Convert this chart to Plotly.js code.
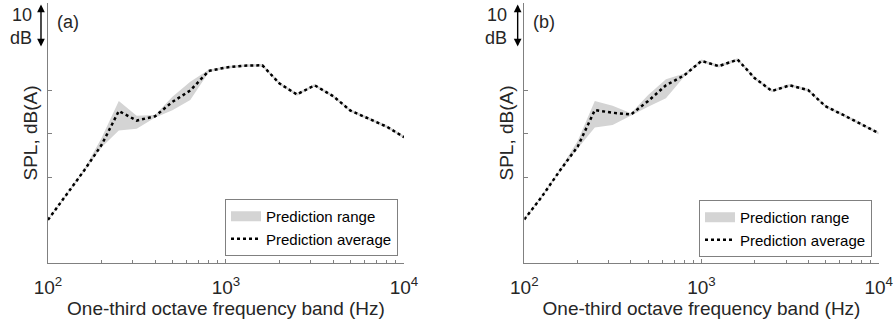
<!DOCTYPE html>
<html>
<head>
<meta charset="utf-8">
<script src="https://cdn.plot.ly/plotly-3.0.1.min.js"></script>
<style>html,body{margin:0;padding:0;background:#fff;}#chart{width:895px;height:326px;}</style>
</head>
<body>
<div id="chart"></div>
<script>
// One-third octave band centre frequencies (Hz)
var freqs = [100,125,160,200,250,315,400,500,630,800,1000,1250,1600,2000,2500,3150,4000,5000,6300,8000,10000];

// Panel (a) – SPL, dB(A)
var avgA  = [20.2,25.7,31.6,37.4,45.2,43.0,44.0,47.3,49.9,54.4,55.2,55.6,55.7,51.5,49.0,51.1,48.6,45.3,43.5,41.6,39.2];
var lowA  = [20.0,25.5,31.3,36.9,40.7,41.1,43.7,45.4,47.7,54.1,54.9,55.3,55.4,51.2,48.7,50.8,48.3,45.0,43.2,41.3,38.9];
var highA = [20.4,25.9,31.9,39.0,47.5,44.1,44.3,48.5,51.9,54.7,55.5,55.9,56.0,51.8,49.3,51.4,48.9,45.6,43.8,41.9,39.5];

// Panel (b) – SPL, dB(A)
var avgB  = [20.3,25.4,31.7,37.0,45.4,44.8,44.4,47.5,51.1,53.4,56.7,55.5,57.0,52.7,49.8,51.1,50.0,46.3,44.3,42.2,40.1];
var lowB  = [20.1,25.2,31.4,36.6,41.4,42.0,44.1,46.2,48.1,53.1,56.4,55.2,56.7,52.4,49.5,50.8,49.7,46.0,44.0,41.9,39.8];
var highB = [20.5,25.7,32.0,38.3,47.5,46.4,44.7,48.9,52.5,53.8,57.0,55.8,57.3,53.0,50.1,51.4,50.3,46.6,44.6,42.5,40.4];

// Tick labels
var majorTicks = [100,1000,10000];
var majorTickText = ['10<sup>2</sup>','10<sup>3</sup>','10<sup>4</sup>'];
var minorTicks = [200,300,400,500,600,700,800,900,2000,3000,4000,5000,6000,7000,8000,9000];
var yTicks = [30,40,50];
var panelLabels = ['(a)','(b)'];
var seriesNames = ['Prediction range','Prediction average'];
var xTitle = 'One-third octave frequency band (Hz)';
var yTitle = 'SPL, dB(A)';
var scaleBar = [60,70];   // 10 dB scale arrow
var scaleText = ['10','dB'];

var FONT = 'Liberation Sans, Arial, Helvetica, sans-serif';
var TXT = '#262626';
var AX = '#808080';
var BAND = '#d4d4d4';

function band(x, lo, hi, xa, ya) {
  return {
    x: x.concat(x.slice().reverse()),
    y: hi.concat(lo.slice().reverse()),
    xaxis: xa, yaxis: ya, showlegend: false,
    type: 'scatter', mode: 'lines', fill: 'toself',
    fillcolor: BAND, line: {width: 0, color: BAND},
    name: seriesNames[0], hoverinfo: 'skip'
  };
}
// legend entry for the range band (patch-like swatch)
function bandKey(xa, ya, lg) {
  return {
    x: [null], y: [null], xaxis: xa, yaxis: ya, legend: lg,
    type: 'scatter', mode: 'lines',
    line: {color: BAND, width: 14},
    name: seriesNames[0], hoverinfo: 'skip'
  };
}
function avg(x, y, xa, ya, lg) {
  return {
    x: x, y: y, xaxis: xa, yaxis: ya, legend: lg,
    type: 'scatter', mode: 'lines',
    line: {color: '#000', width: 2.5, dash: 'dot'},
    name: seriesNames[1]
  };
}

var data = [
  band(freqs, lowA, highA, 'x', 'y'),
  bandKey('x', 'y', 'legend'),
  avg(freqs, avgA, 'x', 'y', 'legend'),
  band(freqs, lowB, highB, 'x2', 'y2'),
  bandKey('x2', 'y2', 'legend2'),
  avg(freqs, avgB, 'x2', 'y2', 'legend2')
];

function xax(dom, anchor) {
  return {
    type: 'log', range: [2, 4], domain: dom, anchor: anchor,
    showline: true, linecolor: AX, linewidth: 1, mirror: false,
    showgrid: false, zeroline: false,
    tickmode: 'array', tickvals: majorTicks, ticktext: majorTickText,
    ticks: 'inside', ticklen: 4, tickcolor: AX, tickwidth: 1,
    ticklabelstandoff: 7,
    tickfont: {family: FONT, size: 19, color: TXT},
    minor: {tickmode: 'array', tickvals: minorTicks, ticks: 'inside', ticklen: 3, tickcolor: AX, tickwidth: 1, showgrid: false},
    title: {text: xTitle, font: {family: FONT, size: 19, color: TXT}, standoff: 3},
    fixedrange: true
  };
}
function yax(anchor) {
  return {
    range: [10.3, 70], domain: [0.1933, 0.9908], anchor: anchor,
    showline: true, linecolor: AX, linewidth: 1, mirror: false,
    showgrid: false, zeroline: false,
    tickmode: 'array', tickvals: yTicks, showticklabels: false,
    ticks: 'inside', ticklen: 4, tickcolor: AX, tickwidth: 1,
    title: {text: yTitle, font: {family: FONT, size: 19, color: TXT}, standoff: 4},
    fixedrange: true
  };
}
function leg(xr, yb) {
  return {
    x: xr, y: yb, xanchor: 'right', yanchor: 'bottom',
    xref: 'paper', yref: 'paper',
    bgcolor: '#fff', bordercolor: AX, borderwidth: 1,
    font: {family: FONT, size: 15, color: '#000'},
    tracegroupgap: 0, itemwidth: 30
  };
}

var annotations = [];
[['x','y',0.0618,0.0458,0.0380],['x2','y2',0.5935,0.5784,0.5687]].forEach(function(p, i) {
  annotations.push({
    xref: 'paper', yref: 'paper', x: p[2], y: 1 - 22/326,
    xanchor: 'left', yanchor: 'middle', showarrow: false,
    text: panelLabels[i], font: {family: FONT, size: 18, color: TXT}
  });
  annotations.push({
    xref: 'paper', yref: p[1], x: p[4], y: 67.3,
    xanchor: 'right', yanchor: 'middle', showarrow: false,
    text: scaleText[0], font: {family: FONT, size: 18, color: TXT}
  });
  annotations.push({
    xref: 'paper', yref: p[1], x: p[4], y: 61.9,
    xanchor: 'right', yanchor: 'middle', showarrow: false,
    text: scaleText[1], font: {family: FONT, size: 18, color: TXT}
  });
  annotations.push({
    xref: 'paper', yref: p[1], x: p[3], y: scaleBar[0],
    axref: 'pixel', ayref: p[1], ax: 0, ay: scaleBar[1],
    showarrow: true, arrowhead: 2, arrowside: 'end+start', arrowsize: 1.1,
    arrowwidth: 1.4, arrowcolor: '#000', text: '', standoff: 0, startstandoff: 0
  });
});

var layout = {
  width: 895, height: 326,
  margin: {l: 0, r: 0, t: 0, b: 0},
  paper_bgcolor: '#fff', plot_bgcolor: 'rgba(0,0,0,0)',
  font: {family: FONT, color: TXT},
  showlegend: true,
  xaxis: xax([0.0536, 0.4514], 'y'),
  yaxis: yax('x'),
  xaxis2: xax([0.5858, 0.9818], 'y2'),
  yaxis2: yax('x2'),
  legend: leg(0.4447, 0.2147),
  legend2: leg(0.9743, 0.2117),
  annotations: annotations
};

Plotly.newPlot('chart', data, layout, {staticPlot: true, displayModeBar: false});
</script>
</body>
</html>
